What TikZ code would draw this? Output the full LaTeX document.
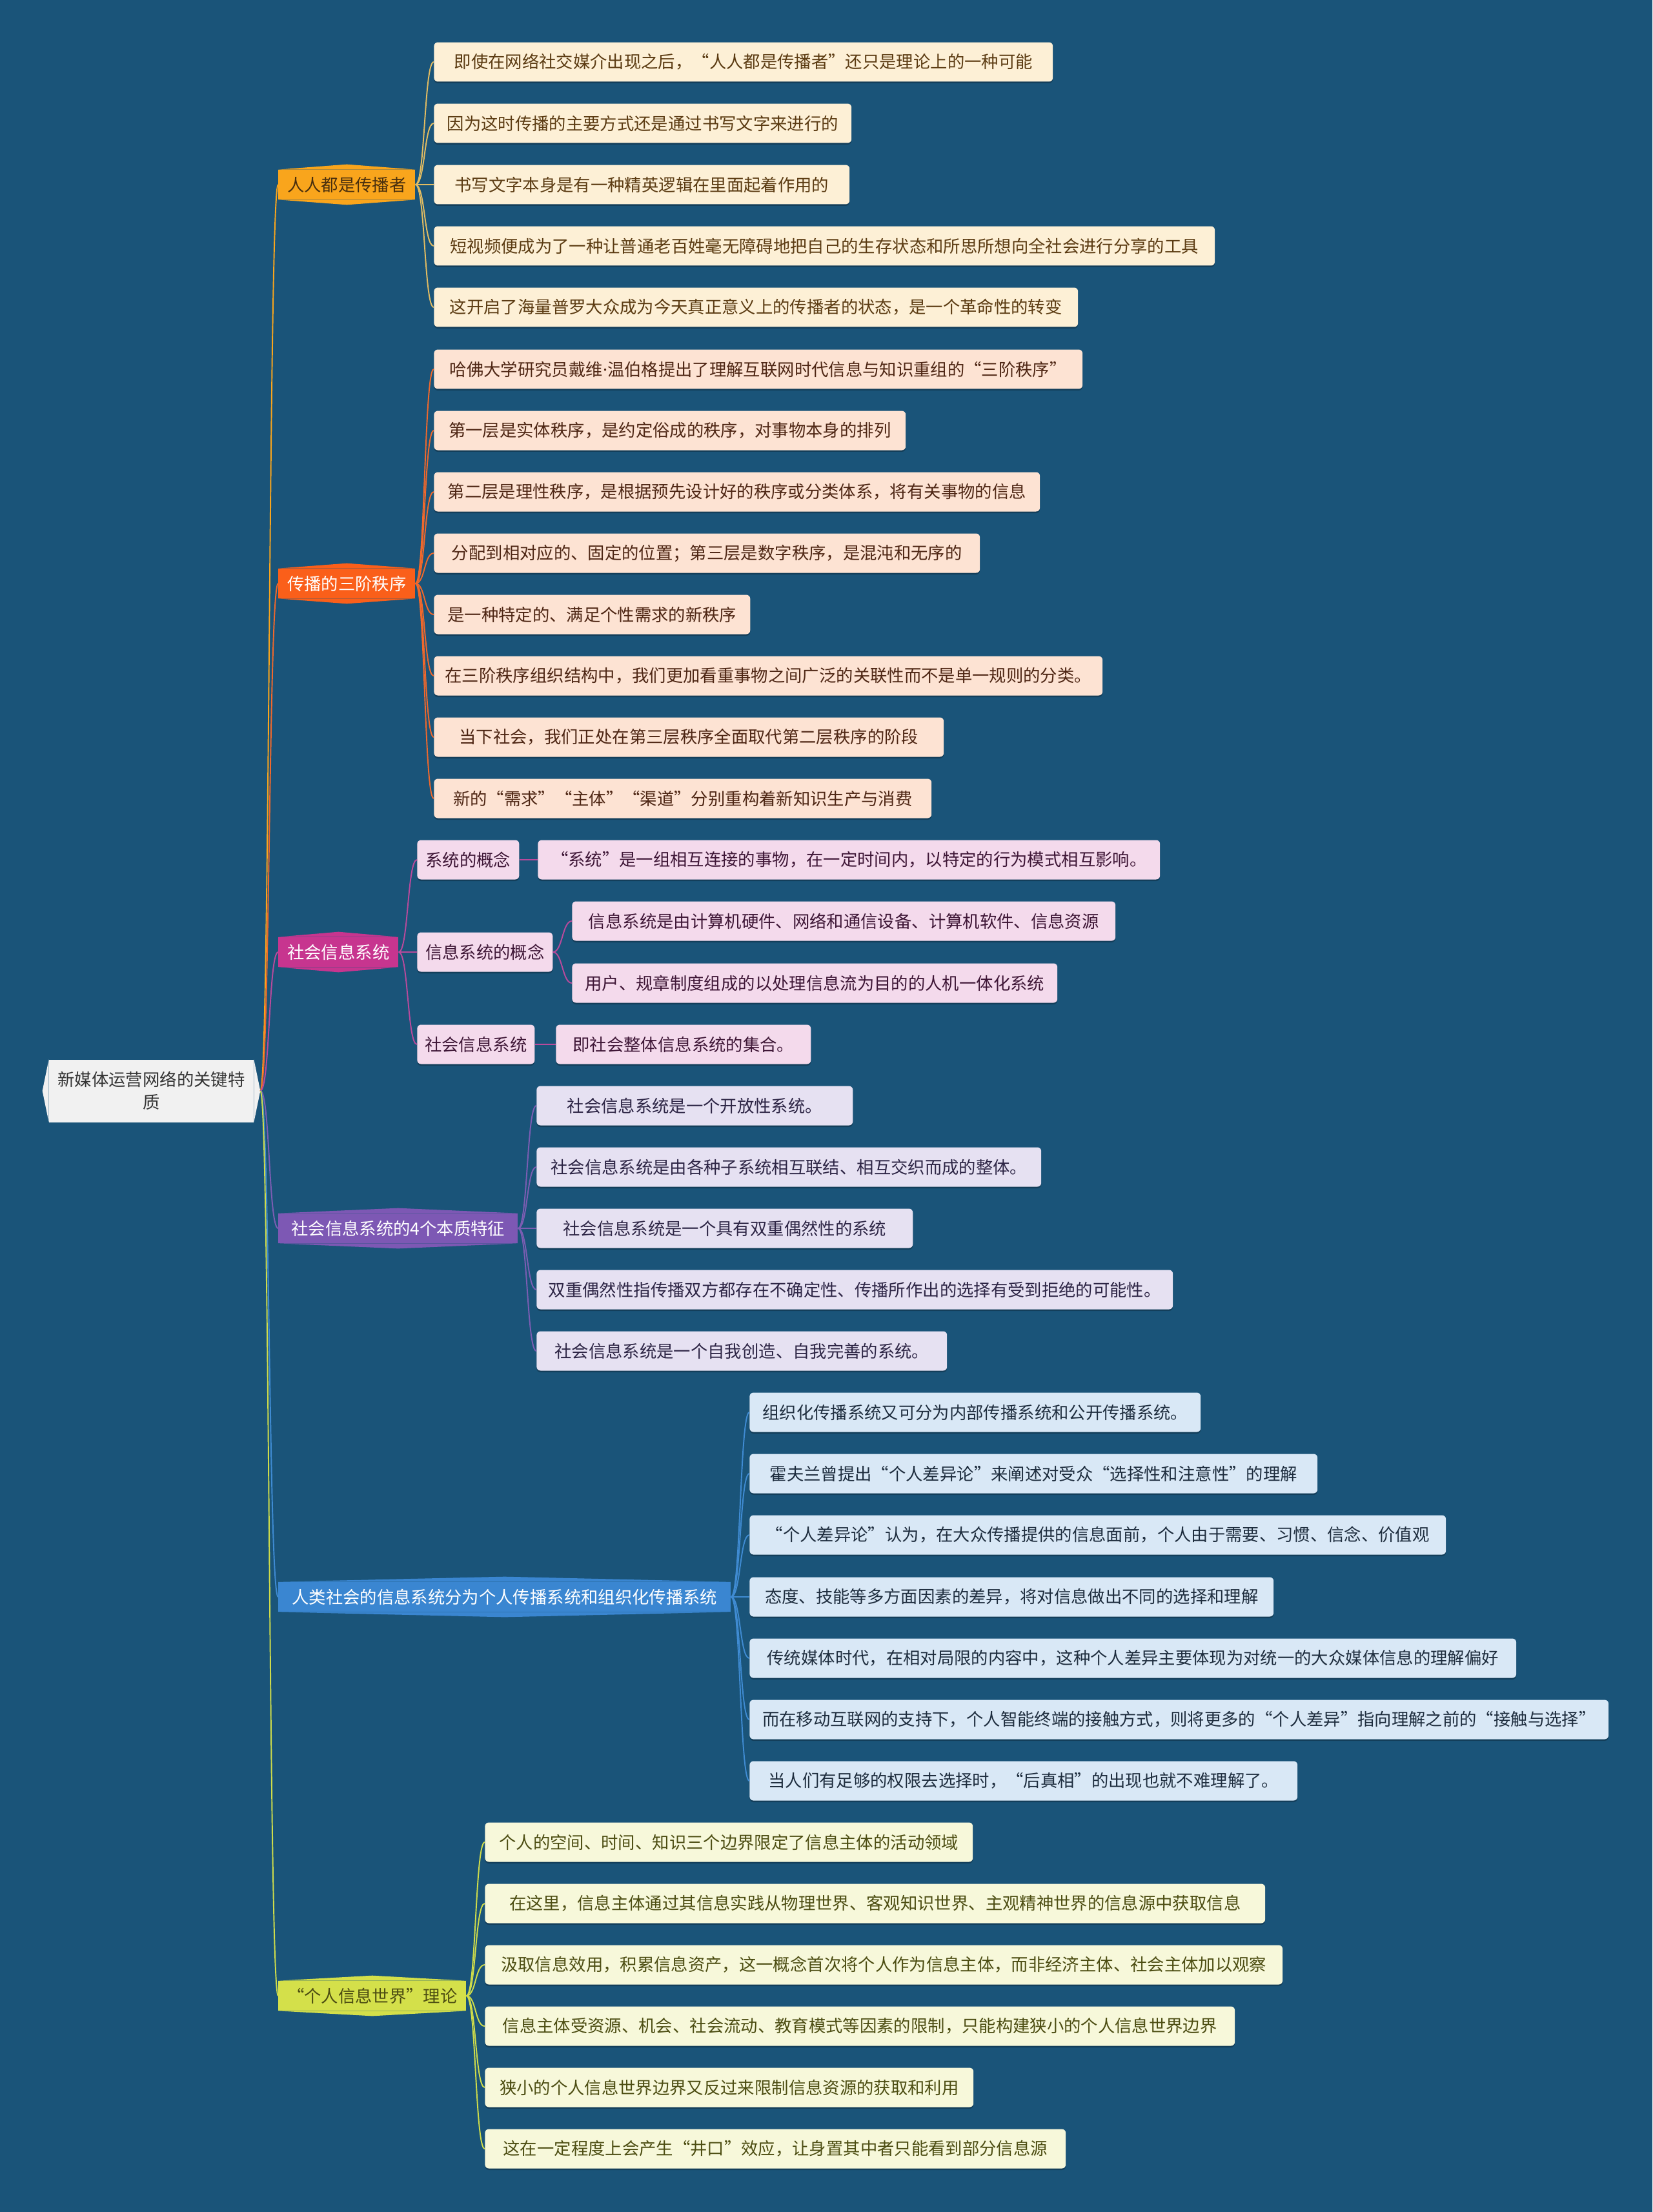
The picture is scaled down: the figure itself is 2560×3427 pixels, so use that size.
\documentclass[tikz,border=0pt]{standalone}
\usepackage{fontspec}
\setmainfont{Noto Sans CJK SC}
\newfontfamily\latinfont{Noto Sans}
\usepackage{tikz}
\usetikzlibrary{shadows}

\definecolor{bgblue}{RGB}{26,84,121}
\definecolor{rootgray}{HTML}{F1F1F1}
\definecolor{rootink}{HTML}{333333}
\definecolor{topicA}{HTML}{F9A51C}
\definecolor{topicB}{HTML}{FA5F1A}
\definecolor{topicC}{HTML}{C7358F}
\definecolor{topicD}{HTML}{7D58B4}
\definecolor{topicE}{HTML}{3A86D1}
\definecolor{topicF}{HTML}{D4E04A}
\definecolor{leafA}{HTML}{FDF0D6}
\definecolor{leafB}{HTML}{FDE3D3}
\definecolor{leafC}{HTML}{F4DAEC}
\definecolor{leafD}{HTML}{E6E1F2}
\definecolor{leafE}{HTML}{D9E8F6}
\definecolor{leafF}{HTML}{F7F8DA}
\definecolor{inkA}{HTML}{5B3B12}
\definecolor{inkB}{HTML}{4E2614}
\definecolor{inkC}{HTML}{3E1636}
\definecolor{inkD}{HTML}{2D2545}
\definecolor{inkE}{HTML}{1E2D3E}
\definecolor{inkF}{HTML}{4C4D12}
\definecolor{linkA}{HTML}{E2BC62}
\definecolor{linkB}{HTML}{F0682C}
\definecolor{linkC}{HTML}{B94A9C}
\definecolor{linkD}{HTML}{7C5DB3}
\definecolor{linkE}{HTML}{3F8BD2}
\definecolor{linkF}{HTML}{CFDC4A}

\begin{document}
\begin{tikzpicture}[x=0.02cm, y=-0.02cm,
    root/.style={rectangle, fill=rootgray, text=rootink, align=center, inner sep=0pt,
        minimum width=6.34cm, minimum height=1.94cm, font=\fontsize{15}{20}\selectfont,
        append after command={\pgfextra{\fill[rootgray]
            (\tikzlastnode.north west) -- ([xshift=-0.2cm]\tikzlastnode.west) -- (\tikzlastnode.south west) -- cycle
            (\tikzlastnode.north east) -- ([xshift=0.2cm]\tikzlastnode.east) -- (\tikzlastnode.south east) -- cycle;}}},
    topic/.style={rectangle, fill=#1, anchor=west, inner sep=0pt,
        minimum height=0.92cm, font=\fontsize{15}{18}\selectfont,
        append after command={\pgfextra{\fill[#1]
            (\tikzlastnode.north west) -- ([yshift=0.16cm]\tikzlastnode.north) -- (\tikzlastnode.north east) -- cycle
            (\tikzlastnode.south west) -- ([yshift=-0.16cm]\tikzlastnode.south) -- (\tikzlastnode.south east) -- cycle;}}},
    leaf/.style={rectangle, fill=#1, rounded corners=0.12cm, anchor=west, inner sep=0pt,
        minimum height=1.22cm, font=\fontsize{15}{18}\selectfont,
        drop shadow={shadow xshift=0pt, shadow yshift=-0.05cm, fill=black, opacity=0.25}},
    link/.style={draw=#1, line width=1.1pt, out=0, in=180, distance=0.3cm}
]
    \fill[bgblue] (0,0) rectangle (2560,3427);
    \useasboundingbox (0,0) rectangle (2560,3427);

    % root
    \node[root] (root) at (234.5,1690) {新媒体运营网络的关键特\\质};
    \coordinate (rootTip) at ([xshift=0.2cm]root.east);

    % main branches
    \node[topic=topicA, text=inkA!80!black, minimum width=4.24cm] (p1) at (431,286) {人人都是传播者};
    \node[topic=topicB, text=white, minimum width=4.24cm] (p2) at (431,904) {传播的三阶秩序};
    \node[topic=topicC, text=white, minimum width=3.72cm] (p3) at (431,1475) {社会信息系统};
    \node[topic=topicD, text=white, minimum width=7.42cm] (p4) at (431,1903) {社会信息系统的4个本质特征};
    \node[topic=topicE, text=white, minimum width=14.02cm] (p5) at (431,2474) {人类社会的信息系统分为个人传播系统和组织化传播系统};
    \node[topic=topicF, text=inkF, minimum width=5.82cm] (p6) at (431,3092) {“个人信息世界”理论};

    % 人人都是传播者
    \node[leaf=leafA, text=inkA, minimum width=19.18cm] (a1) at (672,96) {即使在网络社交媒介出现之后，“人人都是传播者”还只是理论上的一种可能};
    \node[leaf=leafA, text=inkA, minimum width=12.94cm] (a2) at (672,191) {因为这时传播的主要方式还是通过书写文字来进行的};
    \node[leaf=leafA, text=inkA, minimum width=12.88cm] (a3) at (672,286) {书写文字本身是有一种精英逻辑在里面起着作用的};
    \node[leaf=leafA, text=inkA, minimum width=24.2cm] (a4) at (672,381) {短视频便成为了一种让普通老百姓毫无障碍地把自己的生存状态和所思所想向全社会进行分享的工具};
    \node[leaf=leafA, text=inkA, minimum width=19.96cm] (a5) at (672,476) {这开启了海量普罗大众成为今天真正意义上的传播者的状态，是一个革命性的转变};

    % 传播的三阶秩序
    \node[leaf=leafB, text=inkB, minimum width=20.1cm] (b1) at (672,572) {哈佛大学研究员戴维{\latinfont ·}温伯格提出了理解互联网时代信息与知识重组的“三阶秩序”};
    \node[leaf=leafB, text=inkB, minimum width=14.62cm] (b2) at (672,667) {第一层是实体秩序，是约定俗成的秩序，对事物本身的排列};
    \node[leaf=leafB, text=inkB, minimum width=18.78cm] (b3) at (672,762) {第二层是理性秩序，是根据预先设计好的秩序或分类体系，将有关事物的信息};
    \node[leaf=leafB, text=inkB, minimum width=16.92cm] (b4) at (672,857) {分配到相对应的、固定的位置；第三层是数字秩序，是混沌和无序的};
    \node[leaf=leafB, text=inkB, minimum width=9.8cm] (b5) at (672,952) {是一种特定的、满足个性需求的新秩序};
    \node[leaf=leafB, text=inkB, minimum width=20.72cm] (b6) at (672,1047) {在三阶秩序组织结构中，我们更加看重事物之间广泛的关联性而不是单一规则的分类。};
    \node[leaf=leafB, text=inkB, minimum width=15.8cm] (b7) at (672,1142) {当下社会，我们正处在第三层秩序全面取代第二层秩序的阶段};
    \node[leaf=leafB, text=inkB, minimum width=15.42cm] (b8) at (672,1237) {新的“需求”“主体”“渠道”分别重构着新知识生产与消费};

    % 社会信息系统
    \node[leaf=leafC, text=inkC, minimum width=3.16cm] (c1) at (646,1332) {系统的概念};
    \node[leaf=leafC, text=inkC, minimum width=4.2cm] (c2) at (646,1475) {信息系统的概念};
    \node[leaf=leafC, text=inkC, minimum width=3.64cm] (c3) at (646,1618) {社会信息系统};
    \node[leaf=leafC, text=inkC, minimum width=19.28cm] (c11) at (833,1332) {“系统”是一组相互连接的事物，在一定时间内，以特定的行为模式相互影响。};
    \node[leaf=leafC, text=inkC, minimum width=16.84cm] (c21) at (886,1427) {信息系统是由计算机硬件、网络和通信设备、计算机软件、信息资源};
    \node[leaf=leafC, text=inkC, minimum width=15.04cm] (c22) at (886,1523) {用户、规章制度组成的以处理信息流为目的的人机一体化系统};
    \node[leaf=leafC, text=inkC, minimum width=7.9cm] (c31) at (861,1618) {即社会整体信息系统的集合。};

    % 社会信息系统的4个本质特征
    \node[leaf=leafD, text=inkD, minimum width=9.8cm] (d1) at (831,1713) {社会信息系统是一个开放性系统。};
    \node[leaf=leafD, text=inkD, minimum width=15.64cm] (d2) at (831,1808) {社会信息系统是由各种子系统相互联结、相互交织而成的整体。};
    \node[leaf=leafD, text=inkD, minimum width=11.66cm] (d3) at (831,1903) {社会信息系统是一个具有双重偶然性的系统};
    \node[leaf=leafD, text=inkD, minimum width=19.72cm] (d4) at (831,1998) {双重偶然性指传播双方都存在不确定性、传播所作出的选择有受到拒绝的可能性。};
    \node[leaf=leafD, text=inkD, minimum width=12.72cm] (d5) at (831,2093) {社会信息系统是一个自我创造、自我完善的系统。};

    % 个人传播系统和组织化传播系统
    \node[leaf=leafE, text=inkE, minimum width=13.98cm] (e1) at (1161,2188) {组织化传播系统又可分为内部传播系统和公开传播系统。};
    \node[leaf=leafE, text=inkE, minimum width=17.6cm] (e2) at (1161,2283) {霍夫兰曾提出“个人差异论”来阐述对受众“选择性和注意性”的理解};
    \node[leaf=leafE, text=inkE, minimum width=21.58cm] (e3) at (1161,2378) {“个人差异论”认为，在大众传播提供的信息面前，个人由于需要、习惯、信念、价值观};
    \node[leaf=leafE, text=inkE, minimum width=16.24cm] (e4) at (1161,2474) {态度、技能等多方面因素的差异，将对信息做出不同的选择和理解};
    \node[leaf=leafE, text=inkE, minimum width=23.76cm] (e5) at (1161,2569) {传统媒体时代，在相对局限的内容中，这种个人差异主要体现为对统一的大众媒体信息的理解偏好};
    \node[leaf=leafE, text=inkE, minimum width=26.62cm] (e6) at (1161,2664) {而在移动互联网的支持下，个人智能终端的接触方式，则将更多的“个人差异”指向理解之前的“接触与选择”};
    \node[leaf=leafE, text=inkE, minimum width=16.98cm] (e7) at (1161,2759) {当人们有足够的权限去选择时，“后真相”的出现也就不难理解了。};

    % 个人信息世界
    \node[leaf=leafF, text=inkF, minimum width=15.12cm] (f1) at (751,2854) {个人的空间、时间、知识三个边界限定了信息主体的活动领域};
    \node[leaf=leafF, text=inkF, minimum width=24.18cm] (f2) at (751,2949) {在这里，信息主体通过其信息实践从物理世界、客观知识世界、主观精神世界的信息源中获取信息};
    \node[leaf=leafF, text=inkF, minimum width=24.72cm] (f3) at (751,3044) {汲取信息效用，积累信息资产，这一概念首次将个人作为信息主体，而非经济主体、社会主体加以观察};
    \node[leaf=leafF, text=inkF, minimum width=23.24cm] (f4) at (751,3139) {信息主体受资源、机会、社会流动、教育模式等因素的限制，只能构建狭小的个人信息世界边界};
    \node[leaf=leafF, text=inkF, minimum width=15.14cm] (f5) at (751,3234) {狭小的个人信息世界边界又反过来限制信息资源的获取和利用};
    \node[leaf=leafF, text=inkF, minimum width=18cm] (f6) at (751,3329) {这在一定程度上会产生“井口”效应，让身置其中者只能看到部分信息源};

    % links from the root
    \draw[link=topicA] (rootTip) to (p1.west);
    \draw[link=linkB] (rootTip) to (p2.west);
    \draw[link=linkC] (rootTip) to (p3.west);
    \draw[link=linkD] (rootTip) to (p4.west);
    \draw[link=linkE] (rootTip) to (p5.west);
    \draw[link=linkF] (rootTip) to (p6.west);

    \draw[link=linkA] (p1.east) to (a1.west);
    \draw[link=linkA] (p1.east) to (a2.west);
    \draw[link=linkA] (p1.east) to (a3.west);
    \draw[link=linkA] (p1.east) to (a4.west);
    \draw[link=linkA] (p1.east) to (a5.west);

    \draw[link=linkB] (p2.east) to (b1.west);
    \draw[link=linkB] (p2.east) to (b2.west);
    \draw[link=linkB] (p2.east) to (b3.west);
    \draw[link=linkB] (p2.east) to (b4.west);
    \draw[link=linkB] (p2.east) to (b5.west);
    \draw[link=linkB] (p2.east) to (b6.west);
    \draw[link=linkB] (p2.east) to (b7.west);
    \draw[link=linkB] (p2.east) to (b8.west);

    \draw[link=linkC] (p3.east) to (c1.west);
    \draw[link=linkC] (p3.east) to (c2.west);
    \draw[link=linkC] (p3.east) to (c3.west);
    \draw[link=linkC] (c1.east) to (c11.west);
    \draw[link=linkC] (c2.east) to (c21.west);
    \draw[link=linkC] (c2.east) to (c22.west);
    \draw[link=linkC] (c3.east) to (c31.west);

    \draw[link=linkD] (p4.east) to (d1.west);
    \draw[link=linkD] (p4.east) to (d2.west);
    \draw[link=linkD] (p4.east) to (d3.west);
    \draw[link=linkD] (p4.east) to (d4.west);
    \draw[link=linkD] (p4.east) to (d5.west);

    \draw[link=linkE] (p5.east) to (e1.west);
    \draw[link=linkE] (p5.east) to (e2.west);
    \draw[link=linkE] (p5.east) to (e3.west);
    \draw[link=linkE] (p5.east) to (e4.west);
    \draw[link=linkE] (p5.east) to (e5.west);
    \draw[link=linkE] (p5.east) to (e6.west);
    \draw[link=linkE] (p5.east) to (e7.west);

    \draw[link=linkF] (p6.east) to (f1.west);
    \draw[link=linkF] (p6.east) to (f2.west);
    \draw[link=linkF] (p6.east) to (f3.west);
    \draw[link=linkF] (p6.east) to (f4.west);
    \draw[link=linkF] (p6.east) to (f5.west);
    \draw[link=linkF] (p6.east) to (f6.west);
\end{tikzpicture}
\end{document}
